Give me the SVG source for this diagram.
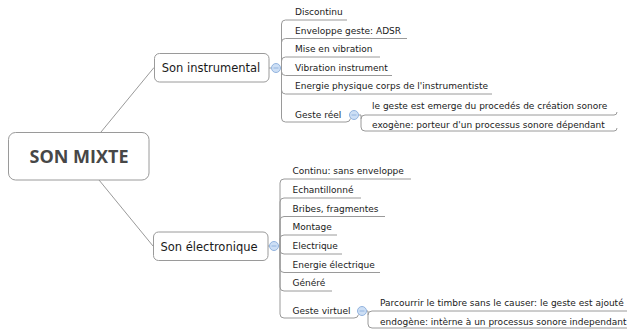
<svg xmlns="http://www.w3.org/2000/svg" width="627" height="330" viewBox="0 0 627 330">
<style>
.ln{fill:none;stroke:#9a9a9a;stroke-width:1}
.box{fill:#fff;stroke:#9a9a9a;stroke-width:1}
.t{font-family:"DejaVu Sans",Verdana,sans-serif;font-size:9px;fill:#1a1a1a}
.m{font-family:"DejaVu Sans",Verdana,sans-serif;font-size:11.5px;fill:#1a1a1a;text-anchor:middle}
.c{font-family:"Open Sans","DejaVu Sans",sans-serif;font-size:18px;font-weight:700;fill:#474747;text-anchor:middle}
.tog{fill:#cddff5;stroke:#93b4df;stroke-width:1}
.minus{stroke:#93b4df;stroke-width:1}
</style>
<rect width="627" height="330" fill="#fff"/>
<g id="connectors">
<path class="ln" d="M101,132 L154,67.5"/>
<path class="ln" d="M99,180 L153,246"/>
<path class="ln" d="M269,68 H271.5 M280.5,68 H281.5"/>
<path class="ln" d="M268,246 H269.5 M278.5,246 H280"/>
<path class="ln" d="M281.5,68 V24 Q281.5,20 285.5,20 H347"/>
<path class="ln" d="M281.5,68 V42.5 Q281.5,38.5 285.5,38.5 H407"/>
<path class="ln" d="M281.5,68 V61 Q281.5,57 285.5,57 H380"/>
<path class="ln" d="M281.5,68 V71.5 Q281.5,75.5 285.5,75.5 H392"/>
<path class="ln" d="M281.5,68 V90 Q281.5,94 285.5,94 H492"/>
<path class="ln" d="M281.5,68 V118 Q281.5,122 285.5,122 H346 Q350,122 350.5,118.5"/>
<path class="ln" d="M358.5,115 H361 M361,119 Q361,115 365,115 H614 Q617,115 617,112"/>
<path class="ln" d="M361,115 V127 Q361,131 365,131 H614 Q617,131 617,128"/>
<path class="ln" d="M280,246 V183 Q280,179 284,179 H411"/>
<path class="ln" d="M280,246 V202 Q280,198 284,198 H361"/>
<path class="ln" d="M280,246 V220.5 Q280,216.5 284,216.5 H385"/>
<path class="ln" d="M280,246 V239 Q280,235 284,235 H337"/>
<path class="ln" d="M280,246 V250 Q280,254 284,254 H342"/>
<path class="ln" d="M280,246 V268.5 Q280,272.5 284,272.5 H380"/>
<path class="ln" d="M280,246 V287 Q280,291 284,291 H332"/>
<path class="ln" d="M280,246 V314 Q280,318 284,318 H354 Q358,318 358.5,314.5"/>
<path class="ln" d="M366.5,311 H368 M368,315 Q368,311 372,311 H630"/>
<path class="ln" d="M368,311 V324 Q368,328 372,328 H640"/>
</g>
<g id="son-mixte">
<rect class="box" x="8.5" y="132.5" width="140.5" height="47.5" rx="7"/>
<text class="c" x="79" y="162.5">SON MIXTE</text>
</g>
<g id="son-instrumental">
<rect class="box" x="154.5" y="53.5" width="114.5" height="28.5" rx="5"/>
<text class="m" x="211" y="72">Son instrumental</text>
<circle class="tog" cx="276" cy="68" r="4.5"/>
<path class="minus" d="M273.5,68 H278.5"/>
</g>
<g id="son-electronique">
<rect class="box" x="153.5" y="232" width="114.5" height="28.5" rx="5"/>
<text class="m" x="209" y="250.5">Son électronique</text>
<circle class="tog" cx="274" cy="246" r="4.5"/>
<path class="minus" d="M271.5,246 H276.5"/>
</g>
<g id="instr-children">
<text class="t" x="295" y="15">Discontinu</text>
<text class="t" x="295" y="33.5">Enveloppe geste: ADSR</text>
<text class="t" x="295" y="52">Mise en vibration</text>
<text class="t" x="295" y="70.5">Vibration instrument</text>
<text class="t" x="295" y="89">Energie physique corps de l'instrumentiste</text>
</g>
<g id="geste-reel">
<text class="t" x="295" y="117.5">Geste réel</text>
<circle class="tog" cx="354" cy="115" r="4.5"/>
<path class="minus" d="M351.5,115 H356.5"/>
<text class="t" x="372" y="109">le geste est emerge du procedés de création sonore</text>
<text class="t" x="372" y="127.5">exogène: porteur d'un processus sonore dépendant</text>
</g>
<g id="elec-children">
<text class="t" x="292.5" y="174">Continu: sans enveloppe</text>
<text class="t" x="292.5" y="193">Echantillonné</text>
<text class="t" x="292.5" y="211.5">Bribes, fragmentes</text>
<text class="t" x="292.5" y="230">Montage</text>
<text class="t" x="292.5" y="249">Electrique</text>
<text class="t" x="292.5" y="267.5">Energie électrique</text>
<text class="t" x="292.5" y="286">Généré</text>
</g>
<g id="geste-virtuel">
<text class="t" x="292.5" y="313.5">Geste virtuel</text>
<circle class="tog" cx="362" cy="311" r="4.5"/>
<path class="minus" d="M359.5,311 H364.5"/>
<text class="t" x="380" y="305.5">Parcourrir le timbre sans le causer: le geste est ajouté</text>
<text class="t" x="380" y="324.5">endogène: intèrne à un processus sonore independant</text>
</g>
</svg>
